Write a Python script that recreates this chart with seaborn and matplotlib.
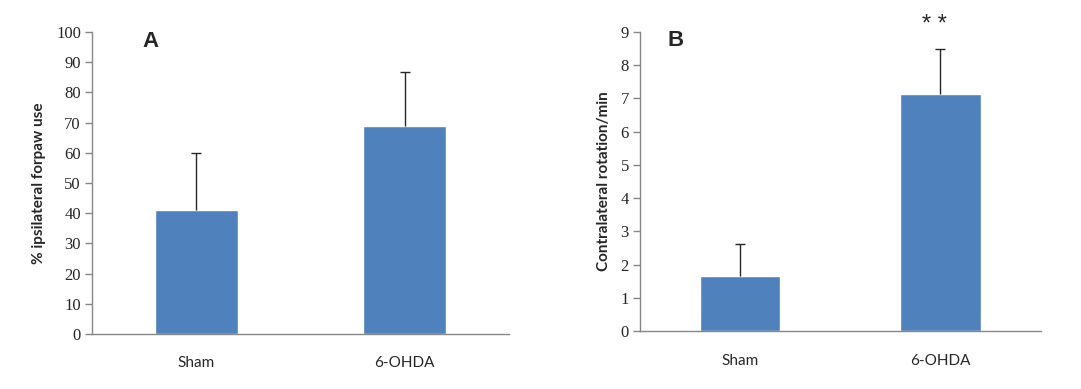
import pandas as pd
import seaborn as sns
import matplotlib.pyplot as plt

groups = ['Sham', '6-OHDA']
forepaw_mean = [41.0, 68.8]
forepaw_err = [18.8, 17.9]
rotation_mean = [1.66, 7.12]
rotation_err = [0.95, 1.35]

bar_color = '#4F81BD'
axis_color = '#868686'

sns.set_style('white')
plt.rcParams['font.family'] = ['Lato', 'DejaVu Sans']

fig = plt.figure(figsize=(10.81, 3.89), dpi=100)
axA = fig.add_axes([0.0851, 0.1414, 0.3858, 0.7763])
axB = fig.add_axes([0.592, 0.1483, 0.3707, 0.7702])

panels = [
    (axA, forepaw_mean, forepaw_err, 100, 10, '% ipsilateral forpaw use', 'A'),
    (axB, rotation_mean, rotation_err, 9, 1, 'Contralateral rotation/min', 'B'),
]

for ax, means, errs, ymax, step, ylabel, letter in panels:
    df = pd.DataFrame({'group': groups, 'value': means})
    sns.barplot(data=df, x='group', y='value', order=groups, color=bar_color,
                width=0.4, saturation=1, errorbar=None, ax=ax)
    # upper-only error bars, drop the lower cap
    eb = ax.errorbar([0, 1], means, yerr=[[0, 0], errs], fmt='none', ecolor='#262626',
                     elinewidth=1.0, capsize=3.5, capthick=1.0)
    eb[1][0].remove()
    ax.set_xlim(-0.5, 1.5)
    ax.set_ylim(0, ymax)
    ax.set_yticks(range(0, ymax + 1, step))
    ax.set_yticklabels([str(v) for v in range(0, ymax + 1, step)],
                       family='Liberation Serif', fontsize=12)
    ax.set_xticks([-0.5, 0.5, 1.5], minor=True)
    ax.set_xticks([0, 1])
    ax.set_xticklabels(groups, fontsize=11)
    ax.tick_params(axis='x', which='major', length=0, pad=16)
    ax.tick_params(axis='x', which='minor', length=5, color=axis_color, width=1, direction='out')
    ax.tick_params(axis='y', length=5, color=axis_color, width=1, direction='out', pad=3, left=True)
    for s in ['top', 'right']:
        ax.spines[s].set_visible(False)
    for s in ['left', 'bottom']:
        ax.spines[s].set_color(axis_color)
        ax.spines[s].set_linewidth(1)
    ax.set_xlabel('')
    ax.set_ylabel(ylabel, fontsize=11, fontweight='bold', labelpad=7)

axA.text(0.14, 1.005, 'A', transform=axA.transAxes, fontsize=16, fontweight='bold',
         family='Liberation Sans', ha='center', va='top')
axB.text(0.09, 1.005, 'B', transform=axB.transAxes, fontsize=16, fontweight='bold',
         family='Liberation Sans', ha='center', va='top')
axB.text(0.97, 9.2, '* *', fontsize=17, family='Liberation Sans',
         ha='center', va='center', clip_on=False)

fig.savefig('out.png', dpi=100)
